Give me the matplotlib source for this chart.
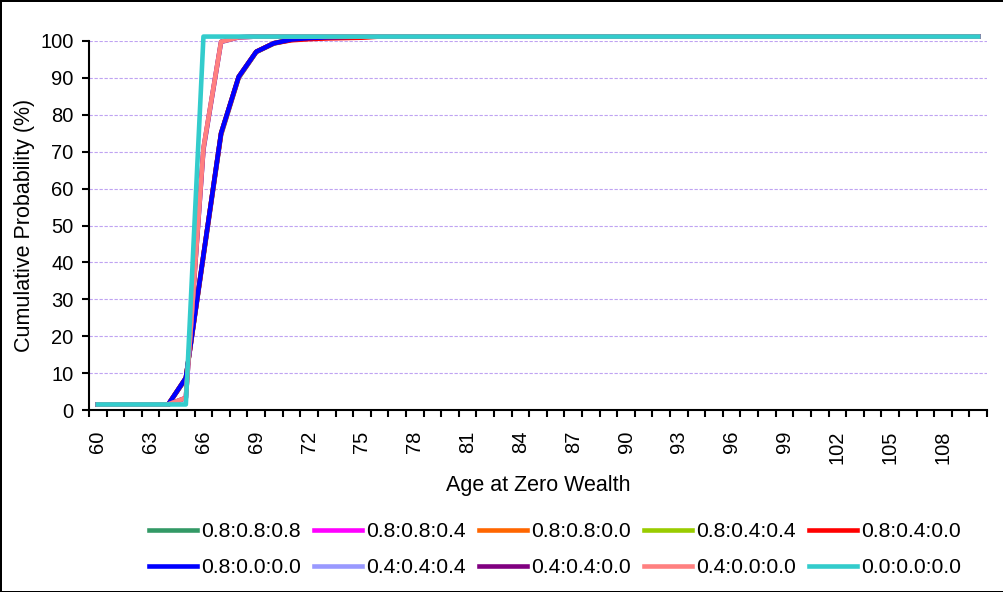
import matplotlib
matplotlib.use("Agg")
import matplotlib.pyplot as plt
from matplotlib.ticker import FixedLocator, NullFormatter

plt.rcParams["font.family"] = ["Liberation Sans", "DejaVu Sans"]
plt.rcParams["font.size"] = 14.5

# ages 60..110 (category axis)
ages = list(range(60, 111))
tick_labels = [str(a) for a in range(60, 109, 3)]

series_names = [
    "0.8:0.8:0.8", "0.8:0.8:0.4", "0.8:0.8:0.0", "0.8:0.4:0.4", "0.8:0.4:0.0",
    "0.8:0.0:0.0", "0.4:0.4:0.4", "0.4:0.4:0.0", "0.4:0.0:0.0", "0.0:0.0:0.0",
]
series_colors = [
    "#339966", "#FF00FF", "#FF6600", "#99CC00", "#FF0000",
    "#0000FF", "#9999FF", "#800080", "#FF8080", "#33CCCC",
]

# cumulative probability (%)
s_080808 = [1.5] * 5 + [8.5, 41.5, 74.5, 90.0, 97.0, 99.3, 100.3, 100.7, 101.0, 101.1] + [101.2] * 36
s_080804 = [1.5] * 5 + [8.6, 41.8, 74.8, 90.2, 97.1, 99.4, 100.4, 100.8, 101.0, 101.1] + [101.2] * 36
s_080800 = [1.5] * 5 + [8.6, 41.9, 74.9, 90.2, 97.1, 99.4, 100.4, 100.8, 101.0, 101.1] + [101.2] * 36
s_080404 = [1.5] * 5 + [8.7, 42.0, 75.0, 90.3, 97.1, 99.4, 100.4, 100.7, 100.9, 101.0, 101.1] + [101.2] * 35
s_080400 = [1.5] * 5 + [8.7, 42.0, 75.0, 90.3, 97.1, 99.4, 100.2, 100.5, 100.7, 100.8, 100.9] + [101.2] * 35
s_080000 = [1.5] * 5 + [8.7, 42.0, 75.0, 90.3, 97.1, 99.4, 100.4, 100.8, 101.0, 101.1] + [101.2] * 36
s_040404 = [1.5] * 5 + [3.2, 70.5, 99.7, 101.0] + [101.2] * 42
s_040400 = [1.5] * 5 + [3.3, 70.8, 99.8, 101.0] + [101.2] * 42
s_040000 = [1.5] * 5 + [3.3, 71.0, 99.8, 101.0] + [101.2] * 42
s_000000 = [1.5] * 6 + [101.2] * 45

all_series = [s_080808, s_080804, s_080800, s_080404, s_080400,
              s_080000, s_040404, s_040400, s_040000, s_000000]

fig = plt.figure(figsize=(10.04, 5.92), dpi=100)
fig.patch.set_edgecolor("black")
fig.patch.set_linewidth(2)
ax = fig.add_axes([89 / 1004, 1 - 410 / 592, 898 / 1004, 369 / 592])

x = list(range(len(ages)))
handles = []
for name, color, vals in zip(series_names, series_colors, all_series):
    (ln,) = ax.plot(x, vals, color=color, linewidth=3.3, label=name,
                    clip_on=False, solid_joinstyle="round")
    handles.append(ln)

ax.set_xlim(-0.5, len(ages) - 0.5)
ax.set_ylim(0, 100)
ax.set_yticks(range(0, 101, 10))
ax.yaxis.grid(True, color="#BFA3F2", linestyle=(0, (3, 1.5)), linewidth=0.8)
ax.set_axisbelow(True)

ax.set_xticks(range(0, 49, 3))
ax.set_xticklabels(tick_labels, rotation=90, va="top", ha="center")
ax.xaxis.set_minor_locator(FixedLocator([i - 0.5 for i in range(len(ages) + 1)]))
ax.xaxis.set_minor_formatter(NullFormatter())
ax.tick_params(axis="x", which="major", length=0, pad=15, labelsize=14.5)
ax.tick_params(axis="x", which="minor", length=5, width=1.5, direction="out")
ax.tick_params(axis="y", length=5, width=1.5, direction="out", pad=6, labelsize=14.5)

for side in ["top", "right"]:
    ax.spines[side].set_visible(False)
ax.spines["left"].set_linewidth(1.5)
ax.spines["bottom"].set_linewidth(1.5)

ax.set_xlabel("Age at Zero Wealth", fontsize=15.5)
ax.xaxis.set_label_coords(0.5, -(475 - 410) / 369)
ax.set_ylabel("Cumulative Probability (%)", fontsize=15.5)
ax.yaxis.set_label_coords((35 - 89) / 898, 0.5)

order = [0, 5, 1, 6, 2, 7, 3, 8, 4, 9]
fig.legend([handles[i] for i in order], [series_names[i] for i in order],
           ncol=5, loc="upper left", bbox_to_anchor=(149 / 1004, 1 - 522 / 592),
           frameon=False, fontsize=15.2, handlelength=2.27, handletextpad=0.19,
           columnspacing=0.63, labelspacing=0.82, borderpad=0, borderaxespad=0)

fig.savefig("out.png", dpi=100, edgecolor=fig.get_edgecolor())
